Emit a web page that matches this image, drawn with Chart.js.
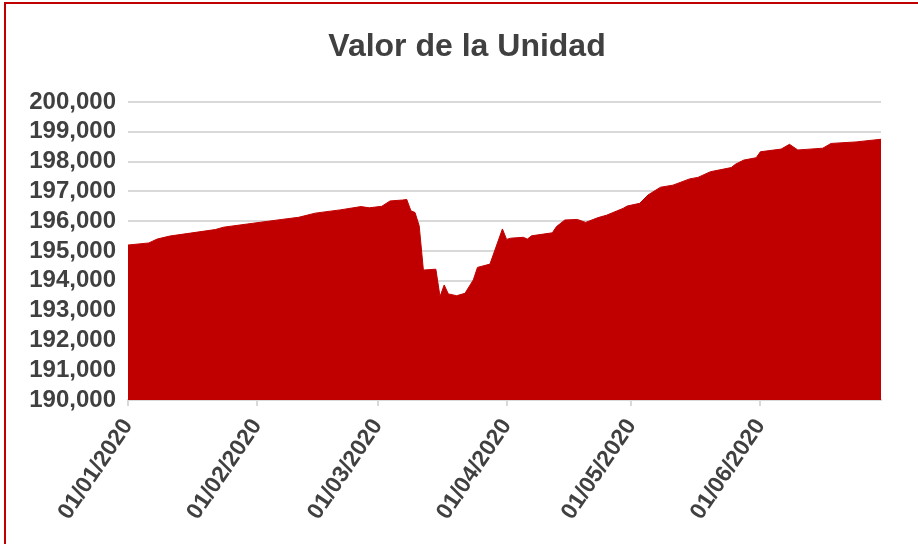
<!DOCTYPE html>
<html lang="es">
<head>
<meta charset="utf-8">
<title>Valor de la Unidad</title>
<script src="https://cdn.jsdelivr.net/npm/chart.js@4.4.1/dist/chart.umd.min.js"></script>
<style>
    body { margin: 0; background: #fff; }
    #wrap { position: relative; width: 918px; height: 544px; overflow: hidden; }
    #frame {
        position: absolute; left: 4px; top: 2px; width: 1000px; height: 1000px;
        border: 2px solid #c00000; box-sizing: border-box; pointer-events: none;
    }
    canvas { position: absolute; left: 0; top: 0; }
</style>
</head>
<body>
<div id="wrap">
    <canvas id="unitChart" width="918" height="544"></canvas>
    <div id="frame"></div>
</div>
<script>
// Values (dd/mm/yyyy, valor cuota)
const dates = [
    '01/01/2020', '06/01/2020', '08/01/2020', '11/01/2020', '16/01/2020', '22/01/2020',
    '24/01/2020', '31/01/2020', '07/02/2020', '11/02/2020', '15/02/2020', '21/02/2020',
    '26/02/2020', '28/02/2020', '02/03/2020', '04/03/2020', '07/03/2020', '08/03/2020',
    '09/03/2020', '10/03/2020', '11/03/2020', '12/03/2020', '15/03/2020', '16/03/2020',
    '17/03/2020', '18/03/2020', '20/03/2020', '22/03/2020', '24/03/2020', '25/03/2020',
    '28/03/2020', '31/03/2020', '01/04/2020', '02/04/2020', '05/04/2020', '06/04/2020',
    '07/04/2020', '12/04/2020', '13/04/2020', '15/04/2020', '18/04/2020', '20/04/2020',
    '23/04/2020', '25/04/2020', '29/04/2020', '30/04/2020', '03/05/2020', '05/05/2020',
    '08/05/2020', '11/05/2020', '15/05/2020', '17/05/2020', '20/05/2020', '25/05/2020',
    '26/05/2020', '28/05/2020', '31/05/2020', '01/06/2020', '06/06/2020', '08/06/2020',
    '10/06/2020', '12/06/2020', '16/06/2020', '18/06/2020', '24/06/2020', '30/06/2020'
];
const values = [
    195200, 195270, 195400, 195500, 195600, 195720,
    195800, 195930, 196060, 196130, 196270, 196380,
    196490, 196450, 196500, 196680, 196710, 196730,
    196350, 196290, 195840, 194360, 194390, 193470,
    193860, 193560, 193500, 193580, 194030, 194450,
    194560, 195740, 195390, 195430, 195460, 195400,
    195510, 195610, 195820, 196040, 196060, 195960,
    196120, 196200, 196430, 196510, 196600, 196880,
    197140, 197210, 197420, 197470, 197660, 197800,
    197910, 198050, 198130, 198330, 198420, 198580,
    198390, 198410, 198450, 198610, 198660, 198750
];
const tickDates = ['01/01/2020', '01/02/2020', '01/03/2020', '01/04/2020', '01/05/2020', '01/06/2020'];
const firstDate = '01/01/2020';
const lastDate = '30/06/2020';
const chartTitle = 'Valor de la Unidad';

function dayIndex(str) {
    const [d, m, y] = str.split('/').map(Number);
    return (Date.UTC(y, m - 1, d) - Date.UTC(2020, 0, 1)) / 86400000;
}

const points = dates.map((d, i) => ({ x: dayIndex(d), y: values[i] }));

// Title sits a bit right of the canvas centre in the original, so draw it by hand
const titlePlugin = {
    id: 'offsetTitle',
    afterDraw(chart) {
        const ctx = chart.ctx;
        ctx.save();
        ctx.font = 'bold 32px "Liberation Sans"';
        ctx.fillStyle = '#404040';
        ctx.textAlign = 'center';
        ctx.textBaseline = 'middle';
        ctx.fillText(chartTitle, 467, 47);
        ctx.restore();
    }
};

new Chart(document.getElementById('unitChart'), {
    type: 'line',
    data: {
        datasets: [{
            data: points,
            backgroundColor: '#c00000',
            borderColor: '#c00000',
            borderWidth: 1,
            pointRadius: 0,
            tension: 0,
            fill: 'start'
        }]
    },
    options: {
        responsive: false,
        animation: false,
        layout: { padding: { left: 10, right: 37, top: 102, bottom: 0 } },
        plugins: {
            legend: { display: false },
            tooltip: { enabled: false },
            title: { display: false }
        },
        scales: {
            x: {
                type: 'linear',
                min: dayIndex(firstDate),
                max: dayIndex(lastDate),
                afterBuildTicks: scale => {
                    scale.ticks = tickDates.map(d => ({ value: dayIndex(d) }));
                },
                afterFit: scale => { scale.height = 144; },
                border: { color: '#d9d9d9', width: 2 },
                grid: { drawOnChartArea: false, drawTicks: true, tickLength: 6, color: '#d9d9d9', lineWidth: 2 },
                ticks: {
                    autoSkip: false,
                    minRotation: 56,
                    maxRotation: 56,
                    padding: 8,
                    color: '#404040',
                    font: { family: 'Liberation Sans', size: 23, weight: 'bold' },
                    callback: value => tickDates.find(d => dayIndex(d) === value) || ''
                }
            },
            y: {
                min: 190000,
                max: 200000,
                afterFit: scale => { scale.width = 118; },
                border: { display: false },
                grid: { color: '#d9d9d9', lineWidth: 2, drawTicks: false },
                ticks: {
                    stepSize: 1000,
                    autoSkip: false,
                    padding: 12,
                    color: '#404040',
                    font: { family: 'Liberation Sans', size: 24, weight: 'bold' },
                    callback: value => value.toLocaleString('en-US')
                }
            }
        }
    },
    plugins: [titlePlugin]
});
</script>
</body>
</html>
